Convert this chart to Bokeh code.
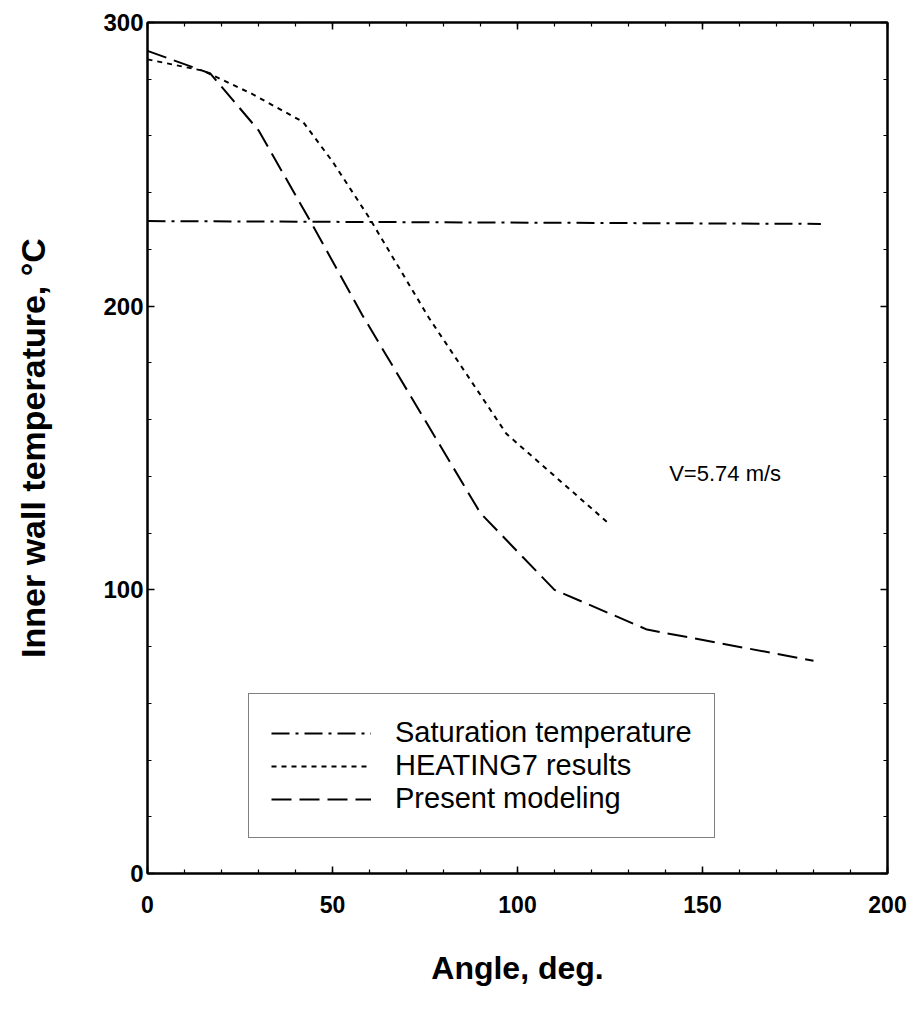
from bokeh.plotting import figure
from bokeh.models import Range1d, LinearAxis, Legend, LegendItem, Label, SingleIntervalTicker
from bokeh.embed import file_html
from bokeh.resources import INLINE

# ---- data ----
sat_x = [0, 182]
sat_y = [230, 229]

heat_x = [0, 15, 28, 42, 50, 60, 76, 97, 125]
heat_y = [287, 283, 275, 265, 251, 231, 196, 155, 123]

model_x = [0, 17, 30, 44, 58, 90, 110, 135, 180]
model_y = [290, 282, 262, 230, 197, 127, 100, 86, 75]

series_labels = ["Saturation temperature", "HEATING7 results", "Present modeling"]
x_ticks_interval = 50
y_ticks_interval = 100
note_text = "V=5.74 m/s"
note_x, note_y = 141, 141

FONT = "Liberation Sans"

p = figure(width=907, height=1001,
           x_range=Range1d(0, 200), y_range=Range1d(0, 300),
           output_backend="svg", toolbar_location=None,
           min_border_left=147, min_border_right=20,
           min_border_top=22, min_border_bottom=128,
           x_axis_label="Angle, deg.",
           y_axis_label="Inner wall temperature, °C")

p.xgrid.visible = False
p.ygrid.visible = False
p.outline_line_color = "black"
p.outline_line_width = 2
p.background_fill_color = "white"
p.border_fill_color = "white"

xt = SingleIntervalTicker(interval=x_ticks_interval, num_minor_ticks=5)
yt = SingleIntervalTicker(interval=y_ticks_interval, num_minor_ticks=5)

def style_axis(ax, label_size, standoff, title_size, title_standoff):
    ax.axis_line_color = "black"
    ax.axis_line_width = 2
    ax.major_tick_in = 7
    ax.major_tick_out = 0
    ax.minor_tick_in = 4
    ax.minor_tick_out = 0
    ax.major_tick_line_width = 1.5
    ax.minor_tick_line_width = 1.2
    ax.major_label_text_font = FONT
    ax.major_label_text_font_style = "bold"
    ax.major_label_text_font_size = label_size
    ax.major_label_text_color = "black"
    ax.major_label_standoff = standoff
    ax.axis_label_text_font = FONT
    ax.axis_label_text_font_style = "bold"
    ax.axis_label_text_font_size = title_size
    ax.axis_label_text_color = "black"
    ax.axis_label_standoff = title_standoff

p.xaxis.ticker = xt
p.yaxis.ticker = yt
style_axis(p.xaxis[0], "23px", 22, "32px", 34)
style_axis(p.yaxis[0], "24px", 4, "34px", 48)

# mirrored tick-only axes
top_ax = LinearAxis(ticker=SingleIntervalTicker(interval=x_ticks_interval, num_minor_ticks=5))
right_ax = LinearAxis(ticker=SingleIntervalTicker(interval=y_ticks_interval, num_minor_ticks=5))
for ax in (top_ax, right_ax):
    style_axis(ax, "0px", 0, "0px", 0)
    ax.major_label_text_alpha = 0
p.add_layout(top_ax, "above")
p.add_layout(right_ax, "right")

r_sat = p.line(sat_x, sat_y, line_color="black", line_width=2, line_dash="18 6 3 6")
r_heat = p.line(heat_x, heat_y, line_color="black", line_width=2, line_dash="5 5")
r_model = p.line(model_x, model_y, line_color="black", line_width=2, line_dash="20 8")

legend = Legend(items=[LegendItem(label=series_labels[0], renderers=[r_sat]),
                       LegendItem(label=series_labels[1], renderers=[r_heat]),
                       LegendItem(label=series_labels[2], renderers=[r_model])],
                location=(101, 35))
legend.border_line_color = "black"
legend.border_line_width = 1.5
legend.background_fill_color = "white"
legend.background_fill_alpha = 1
legend.label_text_font = FONT
legend.label_text_font_size = "29px"
legend.label_text_color = "black"
legend.glyph_width = 100
legend.glyph_height = 30
legend.label_height = 30
legend.label_standoff = 24
legend.padding = 22
legend.spacing = 0
legend.margin = 0
p.add_layout(legend, "center")

p.add_layout(Label(x=note_x, y=note_y, text=note_text, text_font=FONT,
                   text_font_size="22px", text_color="black",
                   text_baseline="middle", text_align="left"))

open("out.html", "w").write(file_html(p, INLINE))
